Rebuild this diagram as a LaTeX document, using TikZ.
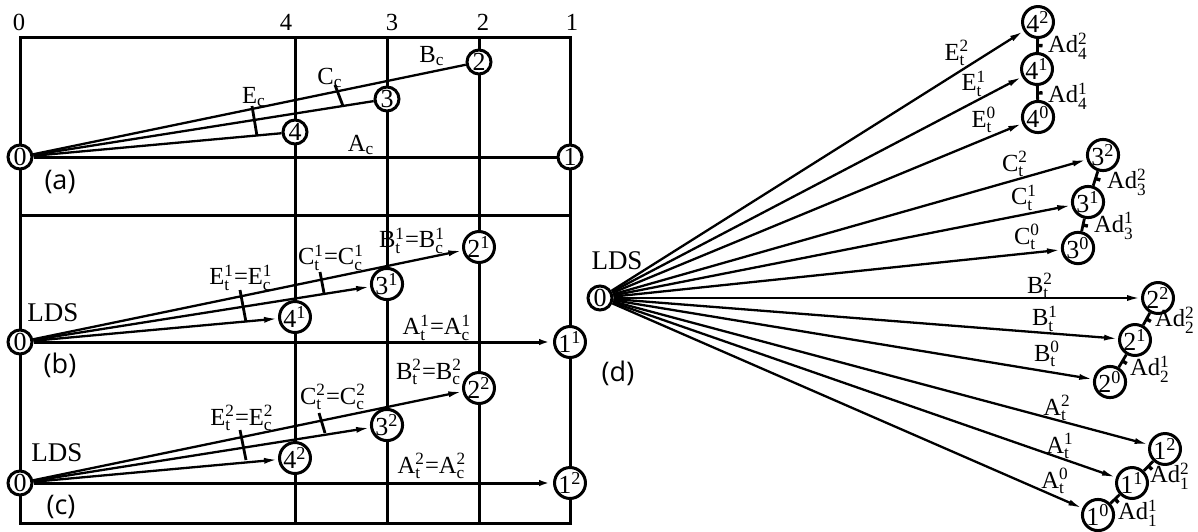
\documentclass[tikz,border=0pt]{standalone}
\usepackage{fontspec}
\usepackage{amsmath}
\setmainfont{Liberation Serif}
\newfontfamily\panfont{Open Sans}
\usetikzlibrary{arrows.meta,calc}
\newcommand\myss[3]{#1$^{\text{#3}}_{\text{#2}}$}
\newcommand\mysb[2]{#1$_{\text{#2}}$}
\newcommand\mysp[2]{#1$^{\text{#2}}$}
\begin{document}
\begin{tikzpicture}[x=0.5pt,y=-0.5pt,
  grid/.style={line width=1.5pt},
  fan/.style={line width=1.15pt},
  arr/.style={fan,-{Latex[length=7pt,width=3pt]}},
  garr/.style={grid,-{Latex[length=7pt,width=3pt]}},
  nd/.style={circle,draw,fill=white,line width=1.5pt,inner sep=0pt,minimum size=12pt,font=\fontsize{13}{13}\selectfont},
  lab/.style={font=\fontsize{12.3}{14}\selectfont,inner sep=0pt},
  lds/.style={font=\fontsize{13.5}{15}\selectfont,inner sep=0pt},
  pan/.style={font=\panfont\fontsize{13.5}{16}\selectfont,inner sep=0pt},
  tk/.style={line width=1.4pt},
  adtk/.style={line width=1.7pt}]
\useasboundingbox (0,0) rectangle (1198,531);
% ---------- left grid ----------
\draw[grid] (20,37) rectangle (570,523);
\foreach \x in {295,387,479} \draw[grid] (\x,37) -- (\x,523);
\draw[grid] (20,215) -- (570,215);
\node[lab] (t0) at (19,22) {0};
\node[lab] (t4) at (286,22) {4};
\node[lab] (t3) at (392,22) {3};
\node[lab] (t2) at (483,22) {2};
\node[lab] (t1) at (572,22) {1};
% ---------- (a) ----------
\node[nd] (a0) at (20,157) {0};
\node[nd] (a1) at (570,157) {1};
\node[nd] (a4) at (295,132) {4};
\node[nd] (a3) at (387,99) {3};
\node[nd] (a2) at (479,62) {2};
\draw[grid] (a0) -- (a1);
\draw[fan] (a0) -- (a4);
\draw[fan] (a0) -- (a3);
\draw[fan] (a0) -- (a2);
\draw[tk] (252,106) -- (257,136);
\draw[tk] (335,85) -- (343,106);
\node[lab] (lEa) at (254,97) {\mysb{E}{c}};
\node[lab] (lCa) at (330,78) {\mysb{C}{c}};
\node[lab] (lBa) at (432,56) {\mysb{B}{c}};
\node[lab] (lAa) at (361,145) {\mysb{A}{c}};
\node[pan] (pa) at (60,182) {(a)};
% ---------- (b) ----------
\node[nd] (b0) at (20,342) {0};
\node[nd] (b1) at (570,342) {\mysp{1}{1}};
\node[nd] (b4) at (295,317) {\mysp{4}{1}};
\node[nd] (b3) at (387,284) {\mysp{3}{1}};
\node[nd] (b2) at (479,247) {\mysp{2}{1}};
\draw[garr] (b0) -- (b1);
\draw[arr] (b0) -- (b4);
\draw[arr] (b0) -- (b3);
\draw[arr] (b0) -- (b2);
\draw[tk] (240,290) -- (246,322);
\draw[tk] (320,272) -- (324,293);
\node[lab] (lEb) at (241,278) {\myss{E}{t}{1}=\myss{E}{c}{1}};
\node[lab] (lCb) at (331,258) {\myss{C}{t}{1}=\myss{C}{c}{1}};
\node[lab] (lBb) at (412,241) {\myss{B}{t}{1}=\myss{B}{c}{1}};
\node[lab] (lAb) at (437,328) {\myss{A}{t}{1}=\myss{A}{c}{1}};
\node[lds] (ldsb) at (53,313) {LDS};
\node[pan] (pb) at (60,365) {(b)};
% ---------- (c) ----------
\node[nd] (c0) at (20,483) {0};
\node[nd] (c1) at (570,483) {\mysp{1}{2}};
\node[nd] (c4) at (295,458) {\mysp{4}{2}};
\node[nd] (c3) at (387,425) {\mysp{3}{2}};
\node[nd] (c2) at (479,388) {\mysp{2}{2}};
\draw[garr] (c0) -- (c1);
\draw[arr] (c0) -- (c4);
\draw[arr] (c0) -- (c3);
\draw[arr] (c0) -- (c2);
\draw[tk] (240,430) -- (246,460);
\draw[tk] (319,413) -- (325,433);
\node[lab] (lEc) at (242,418) {\myss{E}{t}{2}=\myss{E}{c}{2}};
\node[lab] (lCc) at (333,397) {\myss{C}{t}{2}=\myss{C}{c}{2}};
\node[lab] (lBc) at (429,372) {\myss{B}{t}{2}=\myss{B}{c}{2}};
\node[lab] (lAc) at (432,466) {\myss{A}{t}{2}=\myss{A}{c}{2}};
\node[lds] (ldsc) at (57,453) {LDS};
\node[pan] (pc) at (61,507) {(c)};
% ---------- (d) ----------
\node[nd] (d0) at (600,298) {0};
\node[lds] (ldsd) at (617,261) {LDS};
\node[pan] (pd) at (618,373) {(d)};
\node[nd] (n42) at (1038,22) {\mysp{4}{2}};
\node[nd] (n41) at (1037,69) {\mysp{4}{1}};
\node[nd] (n40) at (1038,117) {\mysp{4}{0}};
\node[nd] (n32) at (1103,155) {\mysp{3}{2}};
\node[nd] (n31) at (1088,202) {\mysp{3}{1}};
\node[nd] (n30) at (1078,248) {\mysp{3}{0}};
\node[nd] (n22) at (1158,298) {\mysp{2}{2}};
\node[nd] (n21) at (1135,340) {\mysp{2}{1}};
\node[nd] (n20) at (1110,382) {\mysp{2}{0}};
\node[nd] (n12) at (1165,449) {\mysp{1}{2}};
\node[nd] (n11) at (1132,483) {\mysp{1}{1}};
\node[nd] (n10) at (1098,515) {\mysp{1}{0}};
\foreach \n in {n42,n41,n40,n32,n31,n30,n22,n21,n20,n12,n11,n10}
  \draw[arr] (d0) -- (\n);
\foreach \p/\q in {n42/n41,n41/n40,n32/n31,n31/n30,n22/n21,n21/n20,n12/n11,n11/n10}{
  \draw[fan,line width=1.4pt] (\p) -- (\q);
  \draw[adtk] ($(\p)!0.5!(\q)$) -- ($(\p)!0.5!(\q)!2.5pt!90:(\q)$);
}
\node[lab] (lE2) at (957,53) {\myss{E}{t}{2}};
\node[lab] (lE1) at (974,84) {\myss{E}{t}{1}};
\node[lab] (lE0) at (984,120) {\myss{E}{t}{0}};
\node[lab] (lC2) at (1015,164) {\myss{C}{t}{2}};
\node[lab] (lC1) at (1024,198) {\myss{C}{t}{1}};
\node[lab] (lC0) at (1027,237) {\myss{C}{t}{0}};
\node[lab] (lB2) at (1040,286) {\myss{B}{t}{2}};
\node[lab] (lB1) at (1045,319) {\myss{B}{t}{1}};
\node[lab] (lB0) at (1047,354) {\myss{B}{t}{0}};
\node[lab] (lA2) at (1057,408) {\myss{A}{t}{2}};
\node[lab] (lA1) at (1060,446) {\myss{A}{t}{1}};
\node[lab] (lA0) at (1055,481) {\myss{A}{t}{0}};
\node[lab] (d42) at (1068,46) {\myss{Ad}{4}{2}};
\node[lab] (d41) at (1068,96) {\myss{Ad}{4}{1}};
\node[lab] (d32) at (1127,182) {\myss{Ad}{3}{2}};
\node[lab] (d31) at (1114,226) {\myss{Ad}{3}{1}};
\node[lab] (d22) at (1175,320) {\myss{Ad}{2}{2}};
\node[lab] (d21) at (1150,369) {\myss{Ad}{2}{1}};
\node[lab] (d12) at (1170,476) {\myss{Ad}{1}{2}};
\node[lab] (d11) at (1138,513) {\myss{Ad}{1}{1}};
\end{tikzpicture}
\end{document}
